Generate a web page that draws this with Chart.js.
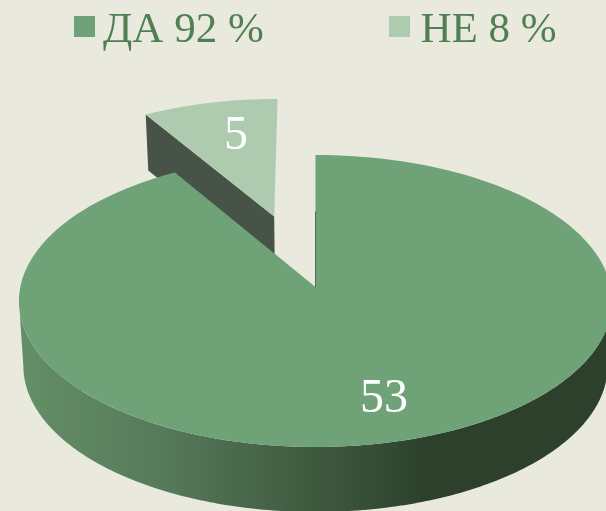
<!DOCTYPE html>
<html>
<head>
<meta charset="utf-8">
<style>
html,body{margin:0;padding:0;background:#e9e9dd;}
#wrap{width:606px;height:511px;position:relative;}
</style>
<script src="https://cdn.jsdelivr.net/npm/chart.js@4"></script>
</head>
<body>
<div id="wrap"><canvas id="c" width="606" height="511"></canvas></div>
<script>
const categories = ["ДА", "НЕ"];
const seriesValues = [53, 5];
const legendLabels = ["ДА 92 %", "НЕ 8 %"];
const sliceColors = ["#6fa276", "#aecbb0"];

const P = {cx:315.5, cy:287, A:295.2, B:144.66, k:0.0959, depth:65, taper:0.985, explode:0.53, nudge:-0.005, explodedRadius:0.975, explodedDepth:56};
const L = {boxes:[74,389], boxY:16, box:21, texts:[103,420.5], baseline:41.5, size:43, color:"#4f7f52"};

function project(u, v){
  const w = 1 - P.k * v;
  return {x:P.cx + P.A*u/w, y:P.cy + P.B*v/w};
}
function rim(t, du, dv, r){ r=r||1; return project(r*Math.cos(t)+(du||0), r*Math.sin(t)+(dv||0)); }
function drop(p, h){ return {x:P.cx+(p.x-P.cx)*P.taper, y:p.y+h}; }
function poly(ctx, pts){ ctx.beginPath(); pts.forEach((p,i)=> i?ctx.lineTo(p.x,p.y):ctx.moveTo(p.x,p.y)); ctx.closePath(); }
function sector(start, end, du, dv, r){
  const pts=[project(du,dv)], n=160;
  for(let i=0;i<=n;i++){ pts.push(rim(start+(end-start)*i/n,du,dv,r)); }
  return pts;
}

const pie3d = {
  id:"pie3d",
  beforeDatasetsDraw(chart){
    const ctx = chart.ctx, arcs = chart.getDatasetMeta(0).data;
    const big = arcs[0], small = arcs[1];
    ctx.save();
    // exploded slice
    const mid = (small.startAngle+small.endAngle)/2;
    const du = Math.cos(mid)*P.explode+P.nudge, dv = Math.sin(mid)*P.explode, r=P.explodedRadius;
    const apex = project(du,dv), corner = rim(small.startAngle,du,dv,r);
    poly(ctx,[corner,apex,drop(apex,P.explodedDepth),drop(corner,P.explodedDepth)]);
    ctx.fillStyle="#475347"; ctx.fill();
    poly(ctx,sector(small.startAngle,small.endAngle,du,dv,r));
    ctx.fillStyle=small.options.backgroundColor; ctx.fill();
    // outer wall of main slice
    const t0=Math.asin(P.k), t1=Math.PI-t0, n=200, up=[], down=[];
    for(let i=0;i<=n;i++){
      const p=rim(t0+(t1-t0)*i/n); up.push(p); down.unshift(drop(p,P.depth));
    }
    const g=ctx.createLinearGradient(20,0,606,0);
    g.addColorStop(0,"#648f66");
    g.addColorStop(0.25,"#56795a");
    g.addColorStop(0.49,"#405b40");
    g.addColorStop(0.70,"#2c402c");
    g.addColorStop(1,"#2c402c");
    poly(ctx,up.concat(down));
    ctx.fillStyle=g; ctx.fill();
    // top of main slice
    poly(ctx,sector(big.startAngle,big.endAngle,0,0));
    ctx.fillStyle=big.options.backgroundColor; ctx.fill();
    // thin inner wall at the notch
    const a=project(0,0), b=project(0,-0.55);
    ctx.beginPath(); ctx.moveTo(a.x,a.y); ctx.lineTo(b.x,b.y);
    ctx.strokeStyle="rgba(50,80,55,0.75)"; ctx.lineWidth=1; ctx.stroke();
    // value labels
    ctx.fillStyle="#ffffff"; ctx.textAlign="center"; ctx.textBaseline="middle";
    ctx.font="48px 'Liberation Serif'";
    ctx.fillText(String(seriesValues[0]),384,399);
    ctx.fillText(String(seriesValues[1]),236,136);
    // legend
    ctx.textAlign="left"; ctx.textBaseline="alphabetic";
    ctx.font=L.size+"px 'Liberation Serif'";
    legendLabels.forEach((t,i)=>{
      ctx.fillStyle=sliceColors[i];
      ctx.fillRect(L.boxes[i],L.boxY,L.box,L.box);
      ctx.fillStyle=L.color;
      ctx.fillText(t,L.texts[i],L.baseline);
    });
    ctx.restore();
    return false;
  }
};

new Chart(document.getElementById("c"),{
  type:"pie",
  data:{labels:categories,datasets:[{data:seriesValues,backgroundColor:sliceColors,borderWidth:0}]},
  options:{
    responsive:false,animation:false,
    layout:{padding:0},
    plugins:{tooltip:{enabled:false},legend:{display:false}}
  },
  plugins:[pie3d]
});
</script>
</body>
</html>
